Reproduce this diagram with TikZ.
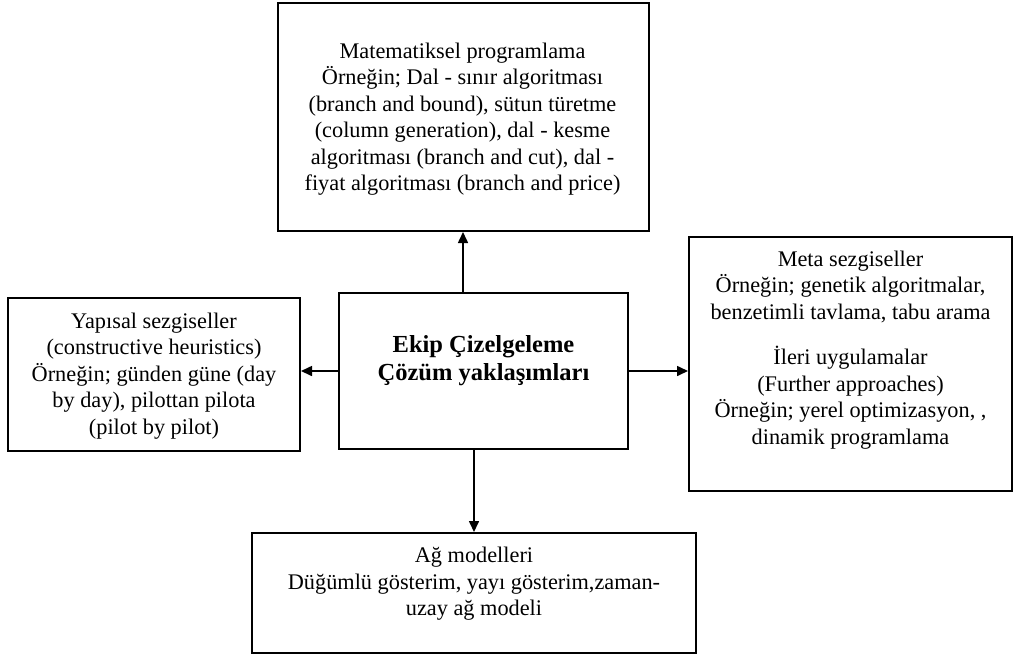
\documentclass[tikz,border=0pt]{standalone}
\usepackage{fontspec}
\setmainfont{Liberation Serif}
\usetikzlibrary{arrows.meta}
\tikzset{
  boxshape/.style={draw, line width=2pt, inner sep=0pt},
  boxtext/.style={align=center, inner sep=0pt, font=\fontsize{22.3}{26.5}\selectfont},
  titletext/.style={align=center, inner sep=0pt, font=\fontsize{24.5}{28}\selectfont\bfseries},
  conn/.style={line width=1.6pt, -{Triangle[length=11pt,width=10pt]}}
}
\begin{document}
\begin{tikzpicture}[x=1pt,y=-1pt]
\useasboundingbox (0,0) rectangle (1015,657);
% boxes
\node[boxshape, minimum width=371pt, minimum height=228pt] (top) at (463,117) {};
\node[boxshape, minimum width=292pt, minimum height=153pt] (left) at (154,374.5) {};
\node[boxshape, minimum width=289pt, minimum height=156pt] (ctr) at (483.5,371) {};
\node[boxshape, minimum width=323pt, minimum height=254pt] (right) at (850.5,364) {};
\node[boxshape, minimum width=444pt, minimum height=120pt] (bot) at (474,593) {};
% texts
\node[boxtext] (toptext) at (462.5,119) {Matematiksel programlama\\Örneğin; Dal - sınır algoritması\\(branch and bound), sütun türetme\\(column generation), dal - kesme\\algoritması (branch and cut), dal -\\fiyat algoritması (branch and price)};
\node[boxtext] (lefttext) at (154,376) {Yapısal sezgiseller\\(constructive heuristics)\\Örneğin; günden güne (day\\by day), pilottan pilota\\(pilot by pilot)};
\node[titletext] (ctrtext) at (483.5,361) {Ekip Çizelgeleme\\Çözüm yaklaşımları};
\node[boxtext] (righttext) at (850.5,350) {Meta sezgiseller\\Örneğin; genetik algoritmalar,\\benzetimli tavlama, tabu arama\\[19pt]İleri uygulamalar\\(Further approaches)\\Örneğin; yerel optimizasyon, ,\\dinamik programlama};
\node[boxtext] (bottext) at (474,584) {Ağ modelleri\\Düğümlü gösterim, yayı gösterim,zaman-\\uzay ağ modeli};
% connectors
\draw[conn] (ctr.north -| top.south) -- (top.south);
\draw[conn] (ctr.west) -- (ctr.west -| left.east);
\draw[conn] (ctr.east) -- (ctr.east -| right.west);
\draw[conn] (ctr.south -| bot.north) -- (bot.north);
\end{tikzpicture}
\end{document}
